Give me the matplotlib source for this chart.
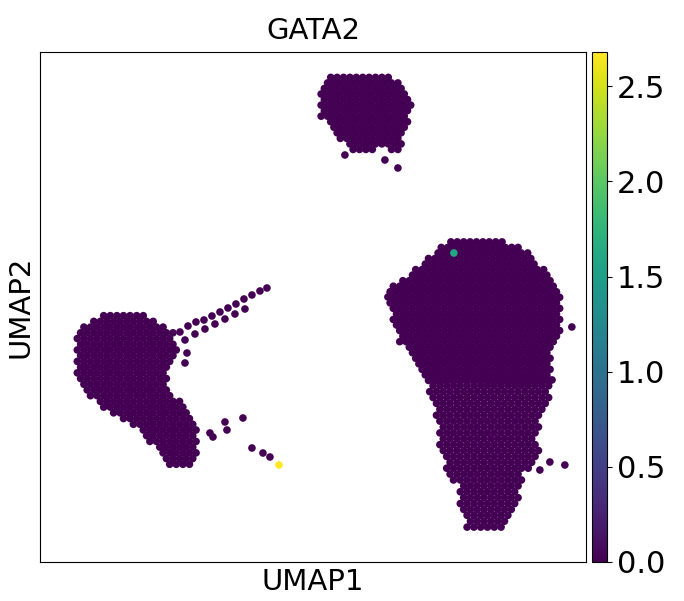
import numpy as np
import matplotlib
matplotlib.use("Agg")
import matplotlib.pyplot as plt
from matplotlib.path import Path

# cluster outlines (UMAP units)
top_outline = [(27.8, 46.7), (28.5, 48.2), (30.0, 48.9), (32.0, 49.0), (34.0, 48.8),
               (35.8, 48.2), (36.8, 47.0), (37.2, 45.4), (36.8, 43.7), (36.2, 42.2),
               (36.0, 40.7), (35.2, 41.2), (34.0, 41.4), (32.5, 40.7), (31.0, 41.2),
               (30.0, 42.2), (29.0, 43.4), (28.0, 44.7)]
left_outline = [(3.5, 22.2), (4.5, 23.7), (6.0, 24.7), (7.5, 25.2), (9.0, 25.2),
                (10.5, 24.7), (12.0, 24.0), (13.2, 23.2), (13.8, 21.7), (13.6, 20.2),
                (13.0, 19.0), (12.5, 17.7), (13.5, 16.7), (14.5, 15.7), (15.5, 14.2),
                (16.0, 12.2), (15.5, 10.4), (14.5, 9.2), (13.2, 9.4), (12.0, 10.7),
                (10.8, 12.2), (9.5, 13.7), (8.0, 14.2), (6.5, 15.2), (5.2, 16.2),
                (4.0, 17.7), (3.4, 19.7)]
right_upper_outline = [(39.0, 30.5), (40.5, 31.8), (42.3, 32.5), (45.7, 32.5),
                       (49.0, 30.9), (51.3, 28.2), (52.3, 25.9), (52.2, 23.5),
                       (51.3, 20.9), (51.1, 17.6), (38.9, 17.6), (37.3, 20.2),
                       (36.0, 21.9), (35.3, 24.2), (34.7, 26.2), (35.3, 27.9),
                       (37.3, 28.9), (38.3, 30.2)]
right_lower_outline = [(38.3, 18.6), (51.3, 18.6), (50.7, 15.5), (49.7, 12.9),
                       (50.0, 10.2), (48.3, 8.9), (48.0, 6.5), (47.3, 4.9),
                       (46.0, 2.9), (43.0, 2.9), (42.0, 4.9), (42.0, 7.5),
                       (40.7, 8.9), (40.0, 11.5), (39.7, 14.5), (39.0, 16.9)]

# scattered cells outside the dense blobs
trail_x = [14.0, 14.8, 15.6, 16.4, 17.2, 18.0, 18.8, 19.6, 20.4, 21.2, 22.0, 22.7,
           14.5, 15.5, 16.5, 17.5, 18.5, 19.5, 20.5, 14.7, 14.5]
trail_y = [23.0, 23.6, 24.0, 24.2, 24.6, 25.0, 25.4, 25.8, 26.3, 26.7, 27.1, 27.4,
           22.2, 22.8, 23.3, 23.8, 24.3, 24.8, 25.3, 20.9, 19.9]
stray_x = [17.0, 17.3, 18.5, 18.7, 20.3, 21.2, 22.3, 23.0, 35.8, 30.5, 34.5,
           34.8, 53.2, 52.5, 50.0, 51.0]
stray_y = [12.9, 12.5, 14.0, 13.2, 14.4, 11.4, 10.9, 10.5, 39.4, 40.7, 40.2,
           26.5, 23.5, 9.7, 9.2, 10.0]

# the only cells with GATA2 expression
expr_x = [41.4, 23.9]
expr_y = [30.9, 9.7]
expr_val = [1.6, 2.68]


def fill_outline(outline, step):
    path = Path(outline)
    xs = [p[0] for p in outline]
    ys = [p[1] for p in outline]
    pts = []
    row = 0
    y = min(ys)
    while y <= max(ys):
        x = min(xs) + (step / 2 if row % 2 else 0)
        while x <= max(xs):
            pts.append((x, y))
            x += step
        y += step * 0.866
        row += 1
    pts = np.array(pts)
    return pts[path.contains_points(pts)]


cells = np.vstack([fill_outline(top_outline, 0.64),
                   fill_outline(left_outline, 0.66),
                   fill_outline(right_upper_outline, 0.64),
                   fill_outline(right_lower_outline, 0.68),
                   np.column_stack([trail_x, trail_y]),
                   np.column_stack([stray_x, stray_y])])

fig = plt.figure(figsize=(6.84, 6.01), dpi=100)
ax = fig.add_axes([0.0585, 0.0649, 0.798, 0.8486])
cax = fig.add_axes([0.8655, 0.0649, 0.0219, 0.8486])

vmax = 2.68
ax.scatter(cells[:, 0], cells[:, 1], c=np.zeros(len(cells)), cmap="viridis",
           vmin=0, vmax=vmax, s=30, linewidths=0)
sc = ax.scatter(expr_x, expr_y, c=expr_val, cmap="viridis", vmin=0, vmax=vmax,
                s=30, linewidths=0)

ax.set_xlim(0, 54.6)
ax.set_ylim(0, 51.0)
ax.set_xticks([])
ax.set_yticks([])
ax.set_title("GATA2", fontsize=21, pad=9)
ax.set_xlabel("UMAP1", fontsize=21)
ax.set_ylabel("UMAP2", fontsize=21)

cb = fig.colorbar(sc, cax=cax)
cb.set_ticks([0.0, 0.5, 1.0, 1.5, 2.0, 2.5])
cb.ax.tick_params(labelsize=22)

fig.savefig("out.png", dpi=100)
